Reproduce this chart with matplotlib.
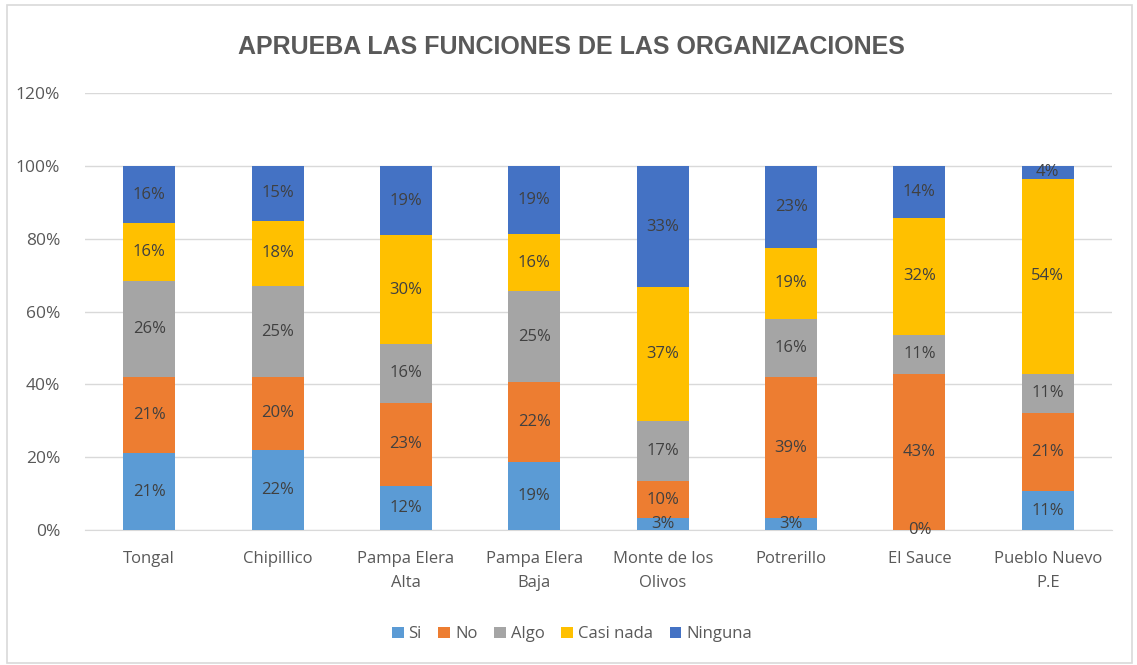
import matplotlib.pyplot as plt
import numpy as np

# datos (porcentajes por localidad)
CATEGORIES = ["Tongal", "Chipillico", "Pampa Elera\nAlta", "Pampa Elera\nBaja",
              "Monte de los\nOlivos", "Potrerillo", "El Sauce", "Pueblo Nuevo\nP.E"]
SERIES = ["Si", "No", "Algo", "Casi nada", "Ninguna"]
SI = [21.05, 22.0, 12.0, 18.75, 3.33, 3.23, 0.0, 10.71]
NO = [21.05, 20.0, 23.0, 21.88, 10.0, 38.71, 42.86, 21.43]
ALGO = [26.32, 25.0, 16.0, 25.0, 16.67, 16.13, 10.71, 10.71]
CASI_NADA = [15.79, 18.0, 30.0, 15.63, 36.67, 19.35, 32.14, 53.57]
NINGUNA = [15.79, 15.0, 19.0, 18.75, 33.33, 22.58, 14.29, 3.57]
COLORS = ["#5B9BD5", "#ED7D31", "#A5A5A5", "#FFC000", "#4472C4"]

TEXT = "#595959"
LABEL = "#404040"
FONT = ["Open Sans", "DejaVu Sans"]

plt.rcParams["font.family"] = FONT

fig = plt.figure(figsize=(11.37, 6.65), dpi=100)
ax = fig.add_axes([0.0748, 0.203, 0.9032, 0.657])

# borde del gráfico
fig.patches.append(plt.Rectangle((0.006, 0.003), 0.99, 0.99, transform=fig.transFigure,
                                 fill=False, edgecolor="#D9D9D9", linewidth=1.2))

x = np.arange(len(CATEGORIES))
bottom = np.zeros(len(CATEGORIES))
for name, vals, color in zip(SERIES, [SI, NO, ALGO, CASI_NADA, NINGUNA], COLORS):
    vals = np.array(vals)
    ax.bar(x, vals, width=0.405, bottom=bottom, color=color, label=name, zorder=3)
    for xi, b, v in zip(x, bottom, vals):
        ax.text(xi, b + v / 2, f"{v:.0f}%", ha="center", va="center",
                fontsize=12, color=LABEL, zorder=4, clip_on=False)
    bottom += vals

ax.set_xlim(-0.5, len(CATEGORIES) - 0.5)
ax.set_ylim(0, 120)
ax.set_yticks(np.arange(0, 121, 20))
ax.set_yticklabels([f"{t}%" for t in range(0, 121, 20)], fontsize=12.5, color=TEXT)
ax.set_xticks(x)
ax.set_xticklabels(CATEGORIES, fontsize=12, color=TEXT, linespacing=1.7)
ax.tick_params(axis="both", length=0)
ax.tick_params(axis="x", pad=15)
ax.tick_params(axis="y", pad=18)
ax.grid(axis="y", color="#D9D9D9", linewidth=1.0, zorder=0)
for side in ["top", "right", "left"]:
    ax.spines[side].set_visible(False)
ax.spines["bottom"].set_color("#D9D9D9")

fig.text(0.503, 0.93, "APRUEBA LAS FUNCIONES DE LAS ORGANIZACIONES",
         ha="center", va="center", fontsize=18, fontweight="bold", color=TEXT,
         family=["Liberation Sans", "DejaVu Sans"])

fig.legend(loc="center", bbox_to_anchor=(0.503, 0.046), ncol=5, frameon=False,
           fontsize=12, labelcolor=TEXT, handlelength=0.7, handleheight=0.7,
           handletextpad=0.3, columnspacing=1.0)

fig.savefig("out.png", dpi=100)
